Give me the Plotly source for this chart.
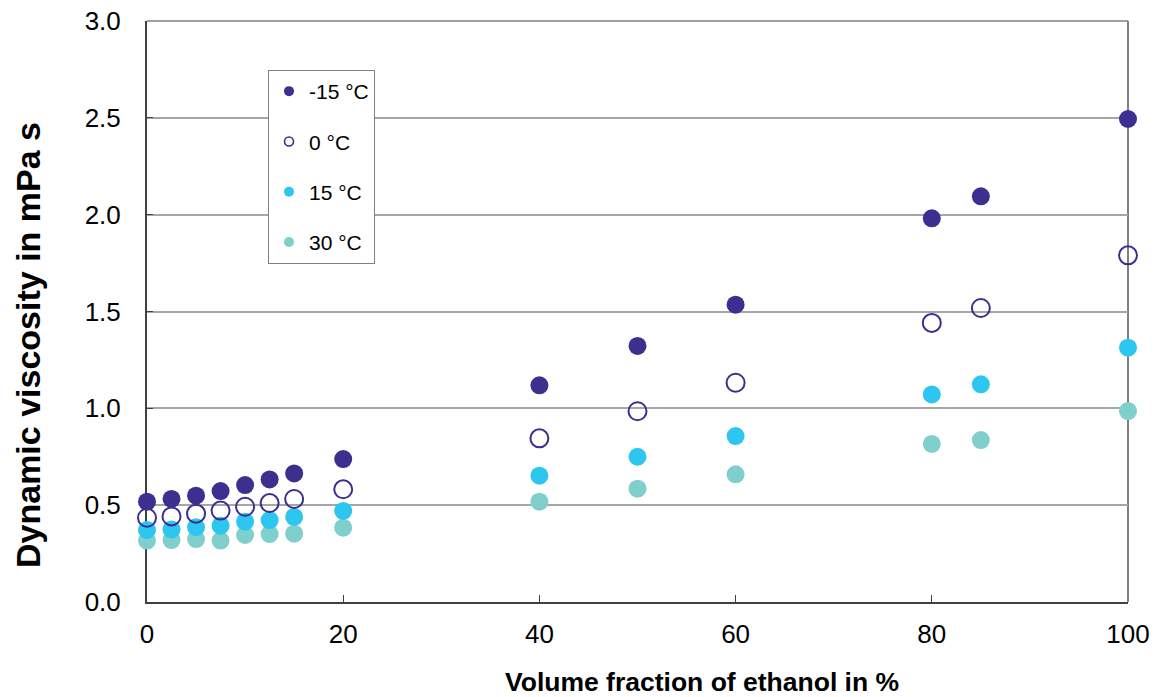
import plotly.graph_objects as go

x_vals = [0, 2.5, 5, 7.5, 10, 12.5, 15, 20, 40, 50, 60, 80, 85, 100]
visc_m15 = [0.518, 0.532, 0.549, 0.573, 0.604, 0.633, 0.664, 0.738, 1.119, 1.322, 1.535, 1.981, 2.095, 2.494]
visc_0 = [0.435, 0.442, 0.456, 0.472, 0.492, 0.511, 0.532, 0.582, 0.845, 0.985, 1.132, 1.441, 1.518, 1.790]
visc_15 = [0.372, 0.375, 0.386, 0.394, 0.415, 0.423, 0.439, 0.470, 0.652, 0.750, 0.857, 1.072, 1.124, 1.313]
visc_30 = [0.317, 0.320, 0.325, 0.317, 0.346, 0.351, 0.353, 0.384, 0.518, 0.585, 0.659, 0.816, 0.836, 0.986]

series_names = ["-15 °C", "0 °C", "15 °C", "30 °C"]
x_ticks = [0, 20, 40, 60, 80, 100]
y_ticks = [0.0, 0.5, 1.0, 1.5, 2.0, 2.5, 3.0]

c_dark = "#3B2F8F"
c_cyan = "#2CC6F0"
c_teal = "#7FCFCC"

series = [visc_m15, visc_0, visc_15, visc_30]
colors = [c_dark, c_dark, c_cyan, c_teal]
symbols = ["circle", "circle-open", "circle", "circle"]

fig = go.Figure()
# plot warmest first so the -15 °C series lies on top
for name, ys, col, sym in reversed(list(zip(series_names, series, colors, symbols))):
    if sym == "circle-open":
        m = dict(size=18, color=col, symbol=sym, line=dict(width=2, color=col))
    else:
        m = dict(size=18, color=col, symbol=sym, line=dict(width=0))
    fig.add_trace(go.Scatter(x=x_vals, y=ys, mode="markers", marker=m,
                             showlegend=False, cliponaxis=False, name=name))

# legend entries with small markers
for i, (name, col, sym) in enumerate(zip(series_names, colors, symbols)):
    if sym == "circle-open":
        m = dict(size=9, color=col, symbol=sym, line=dict(width=1.6, color=col))
    else:
        m = dict(size=10, color=col, symbol=sym)
    fig.add_trace(go.Scatter(x=[None], y=[None], mode="markers", marker=m,
                             name=name, showlegend=True, legendgroup=f"g{i}",
                             legendrank=i))

W, H = 1157, 697
fig.update_layout(
    width=W, height=H,
    margin=dict(l=147, r=29, t=21, b=95),
    plot_bgcolor="white", paper_bgcolor="white",
    font=dict(family="Liberation Sans, Arial, sans-serif", size=26, color="black"),
    legend=dict(
        x=(268 - 147) / 981, y=(602 - 70) / 581, xanchor="left", yanchor="top",
        bordercolor="#808080", borderwidth=1, bgcolor="white",
        font=dict(size=21), tracegroupgap=20, traceorder="grouped",
        itemsizing="trace",
    ),
    xaxis=dict(
        range=[0, 100], tickvals=x_ticks, ticktext=[str(v) for v in x_ticks],
        showgrid=False, zeroline=False, showline=True, linecolor="#404040", linewidth=2,
        ticks="inside", ticklen=7, tickcolor="#404040", tickwidth=1,
        layer="below traces", ticklabelstandoff=8, ticklabeloverflow="allow",
        automargin=False,
    ),
    yaxis=dict(
        range=[0, 3.0], tickvals=y_ticks, ticktext=[f"{v:.1f}" for v in y_ticks],
        showgrid=True, gridcolor="#A6A6A6", gridwidth=1.5,
        zeroline=False, showline=True, linecolor="#404040", linewidth=2,
        ticks="inside", ticklen=6, tickcolor="#404040", tickwidth=1,
        layer="below traces", ticklabelstandoff=19, ticklabeloverflow="allow",
        automargin=False,
    ),
    shapes=[
        dict(type="line", xref="paper", yref="paper", x0=1, x1=1, y0=0, y1=1,
             line=dict(color="#808080", width=2), layer="below"),
        dict(type="line", xref="paper", yref="paper", x0=0, x1=1, y0=1, y1=1,
             line=dict(color="#808080", width=1.5), layer="below"),
    ],
    annotations=[
        dict(text="<b>Volume fraction of ethanol in %</b>", xref="paper", yref="paper",
             x=(701.5 - 147) / 981, y=(602 - 682) / 581, xanchor="center", yanchor="middle",
             showarrow=False, font=dict(size=26.5)),
        dict(text="<b>Dynamic viscosity in mPa s</b>", xref="paper", yref="paper",
             x=(28 - 147) / 981, y=(602 - 345) / 581, xanchor="center", yanchor="middle",
             showarrow=False, textangle=-90, font=dict(size=34)),
    ],
)

fig.write_html(
    "out.html",
    config={"displayModeBar": False},
    post_script="document.body.style.margin='0';document.body.style.overflow='hidden';",
)
